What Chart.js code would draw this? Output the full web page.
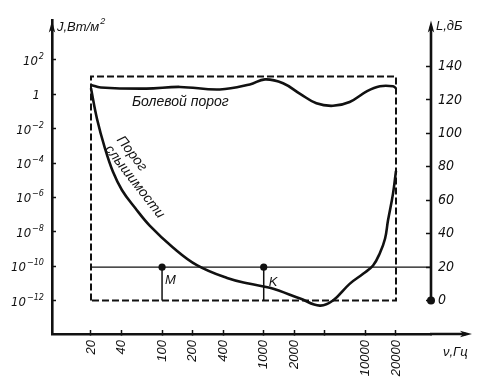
<!DOCTYPE html>
<html>
<head>
<meta charset="utf-8">
<script src="https://cdn.jsdelivr.net/npm/chart.js@4.4.1/dist/chart.umd.min.js"></script>
<style>
  html, body { margin: 0; padding: 0; background: #fff; }
  #wrap { position: relative; width: 488px; height: 385px; }
</style>
</head>
<body>
<div id="wrap"><canvas id="chart"></canvas></div>
<script>
const NARROW = "'Liberation Sans Narrow', 'DejaVu Sans Condensed', 'Liberation Sans', sans-serif";
const REGULAR = "'Liberation Sans', 'DejaVu Sans', sans-serif";
const INK = "#111";

// frequency axis, Hz (log)
const freqTicks = [20, 40, 100, 200, 400, 1000, 2000, 4000, 10000, 20000];
const freqMin = 8.27;
const freqMax = 44200;

// level axis, dB, and the matching intensity exponents (W/m^2)
const levelTicks = [0, 20, 40, 60, 80, 100, 120, 140];
const intensityExp = [-12, -10, -8, -6, -4, -2, 0, 2];

// pain threshold
const painFreq = [20, 25, 70, 150, 370, 730, 1030, 1550, 2300, 3300, 4800, 7000, 10400, 13900, 18700, 20000];
const painLevel = [129, 127.5, 126.8, 127.8, 126.3, 129.3, 132.3, 130, 123.5, 118, 116.5, 118.8, 125.3, 128.2, 128.2, 127];

// threshold of hearing
const hearFreq = [20, 22.9, 27.4, 32.9, 40.4, 54.2, 76, 128, 220, 436, 732, 1150, 2280, 3560, 4800, 7000, 9500, 11900, 13900, 15600, 16700, 18700, 20000];
const hearLevel = [127, 108.8, 91.2, 77, 66, 55.5, 44.7, 31.8, 21.2, 13.5, 10, 7.6, 1.2, -3, 0, 10, 16, 21, 28.5, 37, 48, 64, 77.6];

// audible region frame
const boxFreq = [20, 20, 20000, 20000, 20];
const boxLevel = [0, 134, 134, 0, 0];

// reference level and the two marked tones
const refLevel = 20;
const markFreq = [100, 1000];
const markName = ["M", "K"];

const pts = (xs, ys) => xs.map((x, i) => ({ x: x, y: ys[i] }));

function arrow(ctx, x, y, dx, dy) {
  const len = 12, half = 3.2;
  const px = -dy, py = dx;
  ctx.beginPath();
  ctx.moveTo(x, y);
  ctx.lineTo(x - dx * len + px * half, y - dy * len + py * half);
  ctx.lineTo(x - dx * len * 0.75, y - dy * len * 0.75);
  ctx.lineTo(x - dx * len - px * half, y - dy * len - py * half);
  ctx.closePath();
  ctx.fill();
}

const decor = {
  id: "decor",
  afterDraw(chart) {
    const { ctx, chartArea: a } = chart;
    const { x, y, y2 } = chart.scales;
    ctx.save();
    ctx.fillStyle = INK;
    ctx.strokeStyle = INK;

    // left axis: intensity labels 10^n
    levelTicks.forEach((v, i) => {
      const py = y.getPixelForValue(v);
      const e = intensityExp[i];
      const right = a.left - 8;
      ctx.textAlign = "left";
      ctx.textBaseline = "alphabetic";
      if (e === 0) {
        ctx.font = "italic 13px " + NARROW;
        ctx.fillText("1", right - ctx.measureText("1").width - 4, py + 5);
        return;
      }
      const base = "10", sup = String(e).replace("-", "\u2212");
      ctx.font = "italic 9px " + NARROW;
      const ws = ctx.measureText(sup).width;
      ctx.font = "italic 13px " + NARROW;
      const wb = ctx.measureText(base).width;
      const x0 = right - ws - wb - 1;
      ctx.fillText(base, x0, py + 5);
      ctx.font = "italic 9px " + NARROW;
      ctx.fillText(sup, x0 + wb + 1, py - 1);
    });

    // axis arrows
    arrow(ctx, a.left, a.top, 0, -1);
    const xEnd = a.right + 41;
    ctx.lineWidth = 2.6;
    ctx.beginPath();
    ctx.moveTo(a.right - 1, a.bottom);
    ctx.lineTo(xEnd - 6, a.bottom);
    ctx.stroke();
    arrow(ctx, xEnd, a.bottom, 1, 0);

    // right axis: L, dB, from 0 upwards
    const rx = a.right;
    const r0 = y2.getPixelForValue(0);
    ctx.beginPath();
    ctx.moveTo(rx, r0);
    ctx.lineTo(rx, a.top + 6);
    ctx.stroke();
    arrow(ctx, rx, a.top, 0, -1);
    ctx.beginPath();
    ctx.arc(rx, r0, 4, 0, Math.PI * 2);
    ctx.fill();

    // axis titles
    ctx.textAlign = "left";
    ctx.textBaseline = "alphabetic";
    ctx.font = "italic 13px " + REGULAR;
    const t1 = "J,\u0412\u0442/\u043c";
    ctx.fillText(t1, a.left + 5, 31);
    const w1 = ctx.measureText(t1).width;
    ctx.font = "italic 9px " + REGULAR;
    ctx.fillText("2", a.left + 5 + w1 + 1, 24);
    ctx.font = "italic 13px " + REGULAR;
    ctx.fillText("L,\u0434\u0411", rx + 5, 30);
    ctx.fillText("\u03bd,\u0413\u0446", a.right + 12, 356);

    // curve names
    ctx.font = "italic 14px " + REGULAR;
    ctx.fillText("\u0411\u043e\u043b\u0435\u0432\u043e\u0439 \u043f\u043e\u0440\u043e\u0433",
      x.getPixelForValue(50.6), y2.getPixelForValue(116.5));
    ctx.save();
    ctx.translate(x.getPixelForValue(43), y2.getPixelForValue(100));
    ctx.rotate(52 * Math.PI / 180);
    ctx.textBaseline = "top";
    ctx.font = "italic 14px " + REGULAR;
    ctx.fillText("\u041f\u043e\u0440\u043e\u0433", 0, 0);
    ctx.fillText("\u0441\u043b\u044b\u0448\u0438\u043c\u043e\u0441\u0442\u0438", 0, 15);
    ctx.restore();

    // M, K
    ctx.font = "italic 13px " + REGULAR;
    ctx.textBaseline = "top";
    markFreq.forEach((f, i) => {
      ctx.fillText(markName[i], x.getPixelForValue(f) + 3 + i * 2, y2.getPixelForValue(refLevel) + 7 + i * 2);
    });
    ctx.restore();
  }
};

const lineBase = { borderColor: INK, pointRadius: 0, fill: false, xAxisID: "x", yAxisID: "y2" };

const datasets = [
  Object.assign({}, lineBase, { data: pts(painFreq, painLevel), borderWidth: 2.6, tension: 0.4 }),
  Object.assign({}, lineBase, { data: pts(hearFreq, hearLevel), borderWidth: 2.6, tension: 0.4 }),
  Object.assign({}, lineBase, { data: pts(boxFreq, boxLevel), borderWidth: 2, borderDash: [7, 3], tension: 0 }),
  Object.assign({}, lineBase, { data: [{ x: 20, y: refLevel }, { x: freqMax, y: refLevel }], borderWidth: 1.3, tension: 0 })
];
markFreq.forEach((f) => {
  datasets.push(Object.assign({}, lineBase, {
    data: [{ x: f, y: 0 }, { x: f, y: refLevel }],
    borderWidth: 1.5, tension: 0,
    pointRadius: [0, 3.6], pointBackgroundColor: INK, pointBorderColor: INK, pointBorderWidth: 0
  }));
});

new Chart(document.getElementById("chart"), {
  type: "line",
  data: { datasets: datasets },
  plugins: [decor],
  options: {
    responsive: true,
    maintainAspectRatio: false,
    animation: false,
    events: [],
    layout: { padding: { top: 15, left: 0, right: 0, bottom: 0 } },
    plugins: { legend: { display: false }, tooltip: { enabled: false } },
    scales: {
      x: {
        type: "logarithmic",
        position: "bottom",
        min: freqMin,
        max: freqMax,
        bounds: "data",
        afterBuildTicks: (s) => { s.ticks = freqTicks.map((v) => ({ value: v })); },
        afterFit: (s) => { s.height = 51; },
        grid: { drawOnChartArea: false, tickLength: -4, color: INK, tickWidth: 1.5 },
        border: { display: true, color: INK, width: 2.6 },
        ticks: {
          autoSkip: false, minRotation: 90, maxRotation: 90, padding: 10, color: INK,
          font: { family: REGULAR, size: 13, style: "italic" },
          callback: (v) => (v === 4000 ? "" : String(v))
        }
      },
      y: {
        type: "linear",
        position: "left",
        min: -19.4,
        max: 162.9,
        afterBuildTicks: (s) => { s.ticks = levelTicks.map((v) => ({ value: v })); },
        afterFit: (s) => { s.width = 52; },
        grid: { drawOnChartArea: false, tickLength: -4, color: INK, tickWidth: 1.5 },
        border: { display: true, color: INK, width: 2.6 },
        ticks: { display: false }
      },
      y2: {
        type: "linear",
        position: "right",
        min: -20,
        max: 167.6,
        afterBuildTicks: (s) => { s.ticks = levelTicks.map((v) => ({ value: v })); },
        afterFit: (s) => { s.width = 57; },
        grid: { drawOnChartArea: false, tickLength: -5, color: INK, tickWidth: 1.5 },
        border: { display: false },
        ticks: {
          padding: 12, color: INK,
          font: { family: NARROW, size: 14, style: "italic" }
        }
      }
    }
  }
});
</script>
</body>
</html>
